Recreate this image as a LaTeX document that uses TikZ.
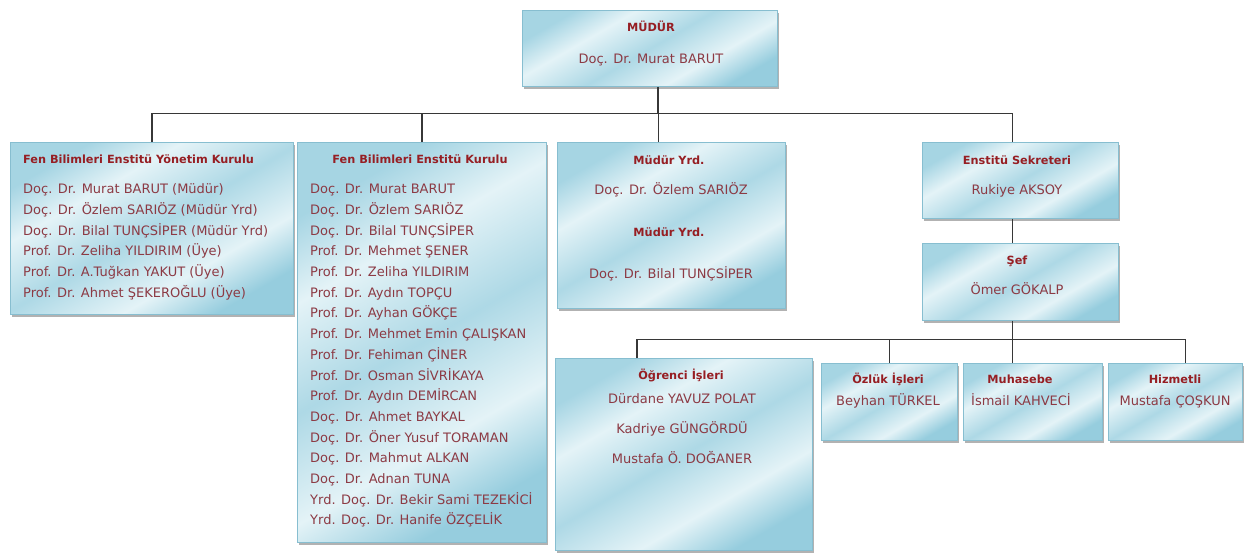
\documentclass[tikz,border=0pt]{standalone}
\usepackage{fontspec}
\setmainfont{DejaVu Sans}
\usetikzlibrary{shadows}
\definecolor{ttl}{RGB}{150,30,35}
\definecolor{bdy}{RGB}{140,58,68}
\definecolor{bxA}{RGB}{150,205,222}
\definecolor{bxB}{RGB}{228,243,247}
\definecolor{bxE}{RGB}{135,190,208}
\definecolor{lnc}{RGB}{55,55,55}
\pgfdeclarehorizontalshading{boxsh}{100bp}{color(0bp)=(bxA); color(25bp)=(bxA); color(36bp)=(bxB); color(50bp)=(bxA!70!bxB); color(64bp)=(bxB); color(75bp)=(bxA!80!bxB); color(100bp)=(bxA!80!bxB)}
\tikzset{
  orgbox/.style={shade, shading=boxsh, shading angle=120, draw=bxE, line width=0.8pt,
    rectangle, inner sep=0pt, anchor=north west,
    drop shadow={shadow xshift=2pt, shadow yshift=-3pt, fill=black!55, opacity=0.55}},
  ttlt/.style={font=\fontsize{11.3}{13}\selectfont\bfseries, text=ttl, inner sep=0pt, anchor=mid},
  bdyt/.style={font=\fontsize{13}{15}\selectfont, text=bdy, inner sep=0pt, anchor=mid},
  conn/.style={draw=lnc, line width=1.3pt}
}
\begin{document}
\begin{tikzpicture}[x=1pt,y=-1pt]
\useasboundingbox (0,0) rectangle (1244,552);
% boxes
\node[orgbox, minimum width=255pt, minimum height=76pt] (top) at (522,10) {};
\node[orgbox, minimum width=283pt, minimum height=172pt] (b1) at (10,142) {};
\node[orgbox, minimum width=249pt, minimum height=400pt] (b2) at (297,142) {};
\node[orgbox, minimum width=228pt, minimum height=166pt] (b3) at (557,142) {};
\node[orgbox, minimum width=196pt, minimum height=76pt] (sek) at (922,142) {};
\node[orgbox, minimum width=196pt, minimum height=77pt] (sef) at (922,243) {};
\node[orgbox, minimum width=257pt, minimum height=192pt] (ogr) at (555,358) {};
\node[orgbox, minimum width=136pt, minimum height=77pt] (ozl) at (821,363) {};
\node[orgbox, minimum width=139pt, minimum height=77pt] (muh) at (963,363) {};
\node[orgbox, minimum width=134pt, minimum height=77pt] (hiz) at (1108,363) {};
% connectors
\draw[conn] ([xshift=8pt]top.south) -- ++(0,27) coordinate (j0);
\draw[conn] (b1.north) |- ([xshift=-8pt]sek.north |- j0) -- ([xshift=-8pt]sek.north);
\draw[conn] (b2.north) -- (b2.north |- j0);
\draw[conn] ([xshift=-13pt]b3.north) -- ([xshift=-13pt]b3.north |- j0);
\draw[conn] ([xshift=-8pt]sek.south) -- ([xshift=-8pt]sef.north);
\draw[conn] ([xshift=-8pt]sef.south) -- ([xshift=-8pt]sef.south |- muh.north);
\coordinate (j1) at ([xshift=-8pt,yshift=-19pt]sef.south);
\draw[conn] ([xshift=-47pt]ogr.north) |- ([xshift=10pt]hiz.north |- j1) -- ([xshift=10pt]hiz.north);
\draw[conn] (ozl.north) -- (ozl.north |- j1);
% texts
\node[ttlt] (topT) at (651,29) {MÜDÜR};
\node[bdyt] (topN) at (651,61) {Doç. Dr. Murat BARUT};
\node[ttlt, anchor=mid west] (b1T) at (23,161) {Fen Bilimleri Enstitü Yönetim Kurulu};
\foreach [count=\i from 0] \t in {Doç. Dr. Murat BARUT (Müdür), Doç. Dr. Özlem SARIÖZ (Müdür Yrd), Doç. Dr. Bilal TUNÇSİPER (Müdür Yrd), Prof. Dr. Zeliha YILDIRIM (Üye), Prof. Dr. A.Tuğkan YAKUT (Üye), Prof. Dr. Ahmet ŞEKEROĞLU (Üye)}
  \node[bdyt, anchor=mid west] (b1n\i) at (23,{191+20.7*\i}) {\t};
\node[ttlt] (b2T) at (420,161) {Fen Bilimleri Enstitü Kurulu};
\foreach [count=\i from 0] \t in {Doç. Dr. Murat BARUT, Doç. Dr. Özlem SARIÖZ, Doç. Dr. Bilal TUNÇSİPER, Prof. Dr. Mehmet ŞENER, Prof. Dr. Zeliha YILDIRIM, Prof. Dr. Aydın TOPÇU, Prof. Dr. Ayhan GÖKÇE, Prof. Dr. Mehmet Emin ÇALIŞKAN, Prof. Dr. Fehiman ÇİNER, Prof. Dr. Osman SİVRİKAYA, Prof. Dr. Aydın DEMİRCAN, Doç. Dr. Ahmet BAYKAL, Doç. Dr. Öner Yusuf TORAMAN, Doç. Dr. Mahmut ALKAN, Doç. Dr. Adnan TUNA, Yrd. Doç. Dr. Bekir Sami TEZEKİCİ, Yrd. Doç. Dr. Hanife ÖZÇELİK}
  \node[bdyt, anchor=mid west] (b2n\i) at (310,{191+20.7*\i}) {\t};
\node[ttlt] (b3T1) at (669,162) {Müdür Yrd.};
\node[bdyt] (b3N1) at (671,192) {Doç. Dr. Özlem SARIÖZ};
\node[ttlt] (b3T2) at (669,234) {Müdür Yrd.};
\node[bdyt] (b3N2) at (671,276) {Doç. Dr. Bilal TUNÇSİPER};
\node[ttlt] (sekT) at (1017,162) {Enstitü Sekreteri};
\node[bdyt] (sekN) at (1017,192) {Rukiye AKSOY};
\node[ttlt] (sefT) at (1017,262) {Şef};
\node[bdyt] (sefN) at (1017,292) {Ömer GÖKALP};
\node[ttlt] (ogrT) at (681,377) {Öğrenci İşleri};
\node[bdyt] (ogrN1) at (682,401) {Dürdane YAVUZ POLAT};
\node[bdyt] (ogrN2) at (682,431) {Kadriye GÜNGÖRDÜ};
\node[bdyt] (ogrN3) at (682,461) {Mustafa Ö. DOĞANER};
\node[ttlt] (ozlT) at (888,381) {Özlük İşleri};
\node[bdyt] (ozlN) at (888,403) {Beyhan TÜRKEL};
\node[ttlt] (muhT) at (1020,381) {Muhasebe};
\node[bdyt] (muhN) at (1021,403) {İsmail KAHVECİ};
\node[ttlt] (hizT) at (1175,381) {Hizmetli};
\node[bdyt] (hizN) at (1175,403) {Mustafa ÇOŞKUN};
\end{tikzpicture}
\end{document}
